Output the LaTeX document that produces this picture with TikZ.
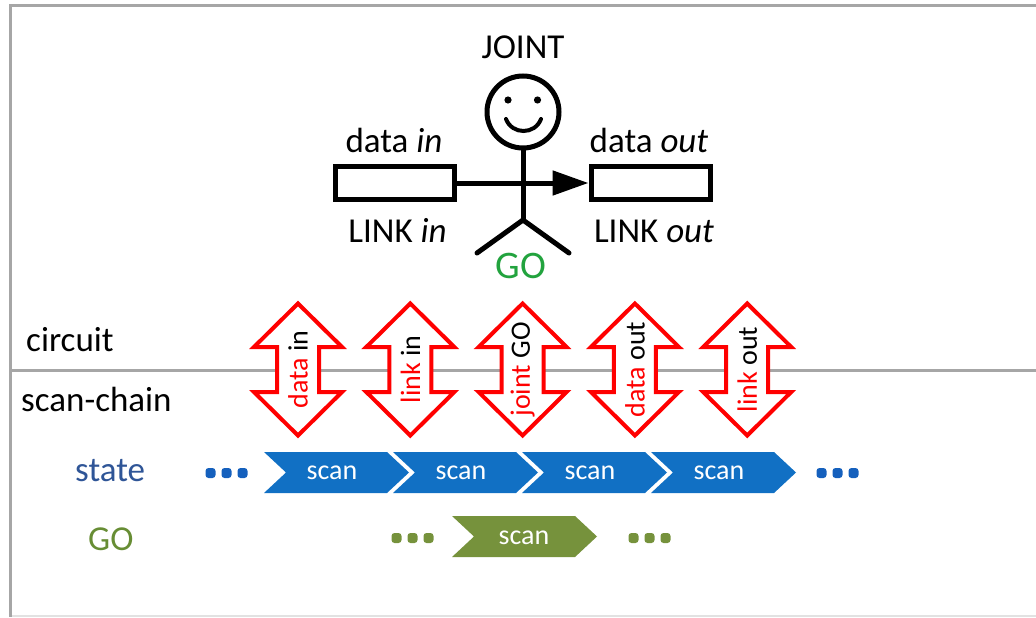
\documentclass[tikz,border=0pt]{standalone}
\usepackage{fontspec}
\setmainfont{Carlito}
\usetikzlibrary{arrows.meta}
\definecolor{framegray}{HTML}{A6A6A6}
\definecolor{framelight}{HTML}{E2E2E2}
\definecolor{scanblue}{HTML}{1170C4}
\definecolor{dotblue}{HTML}{1560BD}
\definecolor{stateblue}{HTML}{2F5597}
\definecolor{goolive}{HTML}{678D34}
\definecolor{scangreen}{HTML}{76923C}
\definecolor{gogreen}{HTML}{22A33E}
\definecolor{arrowred}{HTML}{FF0000}

\newcommand{\fsz}[1]{\fontsize{#1}{#1}\selectfont}

\tikzset{
  label/.style={inner sep=0pt, anchor=base, font=\fsz{35}},
  sidelabel/.style={inner sep=0pt, anchor=base west, font=\fsz{35}},
  figline/.style={line width=5pt, line cap=round},
  regbox/.style={draw, line width=5pt, minimum width=119pt, minimum height=33pt, inner sep=0pt},
  iface/.style={draw=arrowred, fill=white, line width=4pt, line join=miter},
  ifacetext/.style={rotate=90, inner sep=0pt, font=\fsz{28}},
  chevtext/.style={text=white, inner sep=0pt, font=\fsz{28}},
  dotbox/.style={rectangle, rounded corners=3pt, minimum size=10pt, inner sep=0pt},
}

% double-headed interface arrow centred on (#1,#2)
\newcommand{\ifacearrow}[2]{%
  \draw[iface] (#1,#2-66) -- (#1+44,#2-22.5) -- (#1+21,#2-22.5) -- (#1+21,#2+22.5)
    -- (#1+44,#2+22.5) -- (#1,#2+66) -- (#1-44,#2+22.5) -- (#1-21,#2+22.5)
    -- (#1-21,#2-22.5) -- (#1-44,#2-22.5) -- cycle;}

% one chevron of the scan chain: left edge #1, top #2, bottom #3, colour #4
\newcommand{\chevron}[4]{%
  \fill[#4] (#1,#2) -- (#1+123,#2) -- (#1+145,{(#2+#3)/2}) -- (#1+123,#3)
    -- (#1,#3) -- (#1+22,{(#2+#3)/2}) -- cycle;}

\begin{document}
\begin{tikzpicture}[x=1pt,y=-1pt]
\useasboundingbox (0,0) rectangle (1036,618);

% panel frame and the circuit / scan-chain divider
\draw[framelight, line width=2pt] (10,616) -- (1040,616);
\draw[framegray, line width=3pt] (1040,6) -- (10,6) -- (10,617);
\draw[framegray, line width=3pt] (10,370) -- (1040,370);

% ---------- the joint ----------
\node[circle, draw, line width=5pt, minimum size=72pt, inner sep=0pt] (head) at (523,112) {};
\fill (508,100) circle (3.6);
\fill (537.5,100) circle (3.6);
\draw[line width=4pt, line cap=round] (506,119) .. controls (512,135) and (535,135) .. (541,119);
\coordinate (hip) at (523,220);
\coordinate (lfoot) at (477,253);
\coordinate (rfoot) at (569,253);
\draw[figline] (head.south) -- (hip);
\draw[figline] (hip) -- (lfoot);
\draw[figline] (hip) -- (rfoot);

\node[regbox] (lin) at (395,183) {};
\node[regbox] (lout) at (650.5,183) {};
\draw[line width=5pt, -{Triangle[length=36pt,width=24pt]}] (lin.east) -- (lout.west);

\node[label] (joint) at (523,59) {JOINT};
\node[label] (din) at (394,152) {data \textit{in}};
\node[label] (dout) at (649,152) {data \textit{out}};
\node[label] (lkin) at (397.5,242) {LINK \textit{in}};
\node[label] (lkout) at (654,242) {LINK \textit{out}};
\node[label, text=gogreen, font=\fsz{39}] (gotop) at (521,278) {GO};

% ---------- side labels ----------
\node[sidelabel] (circuit) at (26,351) {circuit};
\node[sidelabel] (chain) at (21,411) {scan-chain};
\node[sidelabel, text=stateblue] (state) at (75,481) {state};
\node[sidelabel, text=goolive] (golab) at (88,550) {GO};

% ---------- interface arrows ----------
\ifacearrow{298}{369.5}
\ifacearrow{410.3}{369.5}
\ifacearrow{522.6}{369.5}
\ifacearrow{634.9}{369.5}
\ifacearrow{747.2}{369.5}
\node[ifacetext] (a1) at (298,369.5) {\textcolor{arrowred}{data} in};
\node[ifacetext] (a2) at (410.3,369.5) {\textcolor{arrowred}{link} in};
\node[ifacetext] (a3) at (522.6,369.5) {\textcolor{arrowred}{joint} GO};
\node[ifacetext] (a4) at (634.9,369.5) {\textcolor{arrowred}{data} out};
\node[ifacetext] (a5) at (747.2,369.5) {\textcolor{arrowred}{link} out};

% ---------- state scan chain ----------
\foreach \i/\L in {1/264,2/393,3/522,4/651} {
  \chevron{\L}{452}{493}{scanblue}
  \node[chevtext] (s\i) at (\L+68,473) {scan};
}
\foreach \i/\x in {1/210.5,2/226.5,3/242.5} {
  \node[dotbox, fill=dotblue] (bl\i) at (\x,473) {};
}
\foreach \i/\x in {1/821.5,2/837.5,3/853.5} {
  \node[dotbox, fill=dotblue] (br\i) at (\x,473) {};
}

% ---------- GO scan chain ----------
\chevron{452}{516}{557}{scangreen}
\node[chevtext] (g1) at (524,538) {scan};
\foreach \i/\x in {1/396.5,2/412.5,3/428.5} {
  \node[dotbox, fill=scangreen] (gl\i) at (\x,538) {};
}
\foreach \i/\x in {1/633.5,2/649.5,3/665.5} {
  \node[dotbox, fill=scangreen] (gr\i) at (\x,538) {};
}
\end{tikzpicture}
\end{document}
